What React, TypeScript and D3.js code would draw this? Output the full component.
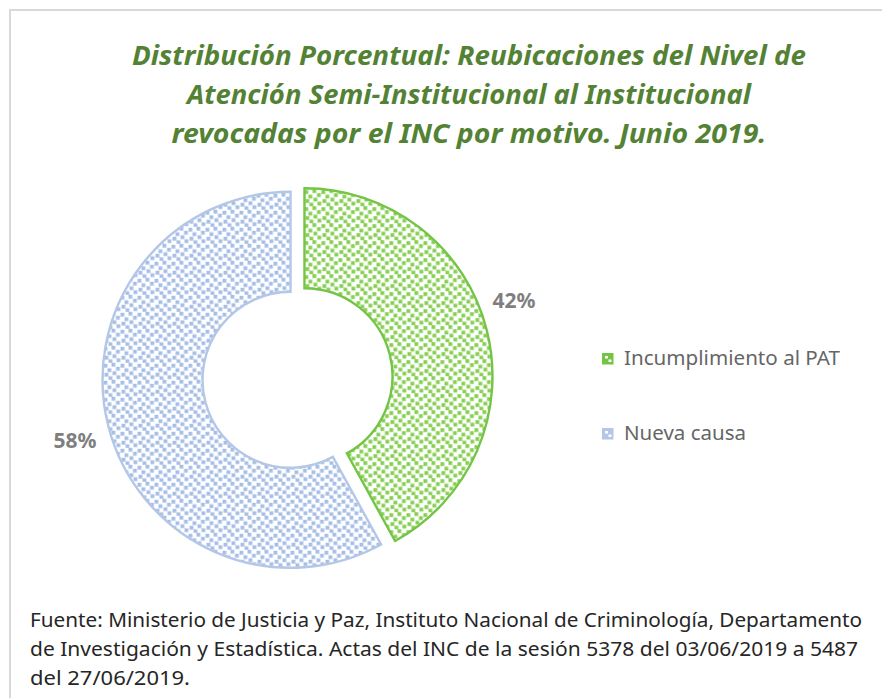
import React from "react";
import * as d3 from "d3";

const categories = ["Incumplimiento al PAT", "Nueva causa"];
const values = [42, 58];
const labels = ["42%", "58%"];
const titleLines = [
  "Distribución Porcentual: Reubicaciones del Nivel de",
  "Atención Semi-Institucional al Institucional",
  "revocadas por el INC por motivo. Junio 2019.",
];
const sourceLines = [
  "Fuente: Ministerio de Justicia y Paz, Instituto Nacional de Criminología, Departamento",
  "de Investigación y Estadística. Actas del INC de la sesión 5378 del 03/06/2019 a 5487",
  "del 27/06/2019.",
];

const W = 882;
const H = 698;
const cx = 297.5;
const cy = 378;
const outerR = 188;
const innerR = 88;
const explode = 7.2;

const strokeColors = ["#74c445", "#b4c7e7"];
const dotColors = ["#86cf52", "#a6bde6"];
const titleWidths = [674, 564, 595];
const sourceWidths = [832, 828, 160];
const labelPos = [
  { x: 514, y: 308 },
  { x: 75, y: 448 },
];
const legendY = [365, 440];

const squares: [number, number][] = [
  [0, 1], [8, 0], [4, 5.5], [12.5, 4], [1, 10], [9, 8.5], [5, 13.5], [13, 12.5],
];

export default function App() {
  const pie = d3.pie<number>().sort(null).value((d) => d);
  const arcs = pie(values);
  const arc = d3.arc<d3.PieArcDatum<number>>().innerRadius(innerR).outerRadius(outerR);

  return (
    <svg width={W} height={H} style={{ position: "absolute", left: 0, top: 0, background: "#fff" }}>
      <defs>
        {dotColors.map((c, i) => (
          <pattern key={i} id={`pat${i}`} width={17} height={17} patternUnits="userSpaceOnUse">
            <rect width={17} height={17} fill="#fff" />
            {squares.map(([x, y], j) => (
              <rect key={j} x={x} y={y} width={3.8} height={3.8} fill={c} />
            ))}
          </pattern>
        ))}
      </defs>
      <rect x={10} y={10} width={900} height={720} fill="#fff" stroke="#d9d9d9" strokeWidth={2} />
      <g fontFamily="'Noto Sans', sans-serif" fontStyle="italic" fontWeight="bold" fill="#548235" fontSize={26.5} textAnchor="middle">
        {titleLines.map((t, i) => (
          <text key={i} x={469} y={65 + i * 39} textLength={titleWidths[i]} lengthAdjust="spacingAndGlyphs">
            {t}
          </text>
        ))}
      </g>
      <g>
        {arcs.map((a, i) => {
          const mid = (a.startAngle + a.endAngle) / 2;
          const dx = Math.sin(mid) * explode;
          const dy = -Math.cos(mid) * explode;
          return (
            <path
              key={i}
              d={arc(a) || ""}
              transform={`translate(${cx + dx},${cy + dy})`}
              fill={`url(#pat${i})`}
              stroke={strokeColors[i]}
              strokeWidth={2.4}
            />
          );
        })}
      </g>
      <g fontFamily="'Noto Sans', sans-serif" fontWeight="bold" fill="#7f7f7f" fontSize={22} textAnchor="middle">
        {labels.map((l, i) => (
          <text key={i} x={labelPos[i].x} y={labelPos[i].y} textLength={43} lengthAdjust="spacingAndGlyphs">
            {l}
          </text>
        ))}
      </g>
      <g fontFamily="'Noto Sans', sans-serif" fill="#666666" fontSize={20.5}>
        {categories.map((c, i) => (
          <g key={i}>
            <rect x={602.5} y={legendY[i] - 11.5} width={10.5} height={10.5} fill={strokeColors[i]} stroke={strokeColors[i]} />
            <rect x={605} y={legendY[i] - 9} width={3} height={2.5} fill="#fff" />
            <rect x={608.5} y={legendY[i] - 5.5} width={3} height={2.5} fill="#fff" />
            <text x={624} y={legendY[i]} textLength={i === 0 ? 216 : 122} lengthAdjust="spacingAndGlyphs">
              {c}
            </text>
          </g>
        ))}
      </g>
      <g fontFamily="'Noto Sans', sans-serif" fill="#262626" fontSize={20.5}>
        {sourceLines.map((t, i) => (
          <text key={i} x={30} y={627 + i * 29} textLength={sourceWidths[i]} lengthAdjust="spacingAndGlyphs">
            {t}
          </text>
        ))}
      </g>
    </svg>
  );
}
